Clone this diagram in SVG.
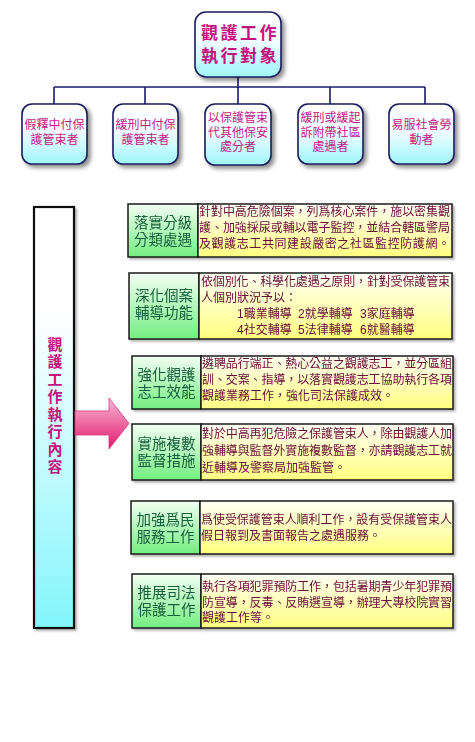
<svg xmlns="http://www.w3.org/2000/svg" width="475" height="742" viewBox="0 0 475 742">
<defs>
  <linearGradient id="gCyan" x1="0" y1="0" x2="0" y2="1">
    <stop offset="0" stop-color="#ffffff"/>
    <stop offset="0.45" stop-color="#f2fdff"/>
    <stop offset="1" stop-color="#9ef6fc"/>
  </linearGradient>
  <linearGradient id="gLeft" x1="0" y1="0" x2="0" y2="1">
    <stop offset="0" stop-color="#ffffff"/>
    <stop offset="0.25" stop-color="#ffffff"/>
    <stop offset="1" stop-color="#82f6fc"/>
  </linearGradient>
  <linearGradient id="gGreen" x1="0" y1="0" x2="0" y2="1">
    <stop offset="0" stop-color="#f4fff4"/>
    <stop offset="1" stop-color="#72ee80"/>
  </linearGradient>
  <linearGradient id="gYellow" x1="0" y1="0" x2="0" y2="1">
    <stop offset="0" stop-color="#fffff6"/>
    <stop offset="1" stop-color="#ffff80"/>
  </linearGradient>
  <linearGradient id="gPink" x1="0" y1="0" x2="0" y2="1">
    <stop offset="0" stop-color="#fbb8d8"/>
    <stop offset="1" stop-color="#e0186c"/>
  </linearGradient>
  <filter id="sh" x="-20%" y="-20%" width="150%" height="150%">
    <feGaussianBlur in="SourceAlpha" stdDeviation="2"/>
    <feOffset dx="3" dy="3" result="b"/>
    <feComponentTransfer><feFuncA type="linear" slope="0.45"/></feComponentTransfer>
    <feMerge><feMergeNode/><feMergeNode in="SourceGraphic"/></feMerge>
  </filter>
  <filter id="sh2" x="-10%" y="-10%" width="130%" height="130%">
    <feGaussianBlur in="SourceAlpha" stdDeviation="1"/>
    <feOffset dx="1.5" dy="1.5" result="b"/>
    <feComponentTransfer><feFuncA type="linear" slope="0.3"/></feComponentTransfer>
    <feMerge><feMergeNode/><feMergeNode in="SourceGraphic"/></feMerge>
  </filter>
</defs>
<style>
  text { font-family: "Liberation Sans", "Noto Sans CJK TC", "Noto Sans CJK SC", sans-serif; dominant-baseline: central; }
  .rbox { fill: url(#gCyan); stroke: #1c1c5c; stroke-width: 1.6; filter: url(#sh); }
  .title { fill: #c4147e; font-size: 17px; font-weight: bold; letter-spacing: 2.5px; text-anchor: middle; }
  .child { fill: #c41c86; font-size: 12px; text-anchor: middle; }
  .conn { stroke: #1c1c6a; stroke-width: 1.6; fill: none; }
  .lbl { fill: url(#gGreen); stroke: #1a1a1a; stroke-width: 1.5; }
  .txt { fill: url(#gYellow); stroke: #1a1a1a; stroke-width: 1.5; }
  .ltxt { fill: #17603c; font-size: 14.5px; text-anchor: middle; }
  .body { fill: #6a0a36; font-size: 12px; }
  .vt { fill: #c4147e; font-size: 15px; font-weight: bold; text-anchor: middle; }
</style>
<rect width="475" height="742" fill="#ffffff"/>

<g id="connectors">
  <path class="conn" d="M238,77 V87 M54,87 H425 M54,87 V104 M145,87 V104 M238,87 V104 M330,87 V104 M425,87 V104"/>
</g>

<g id="root">
  <rect class="rbox" x="195" y="12" width="86" height="65" rx="11"/>
  <text class="title" x="240" y="33">觀護工作</text>
  <text class="title" x="240" y="56">執行對象</text>
</g>

<g id="c1">
  <rect class="rbox" x="22" y="104" width="65" height="60" rx="10"/>
  <text class="child" x="54.5" y="125">假釋中付保</text>
  <text class="child" x="54.5" y="140">護管束者</text>
</g>
<g id="c2">
  <rect class="rbox" x="113" y="104" width="65" height="60" rx="10"/>
  <text class="child" x="145.5" y="125">緩刑中付保</text>
  <text class="child" x="145.5" y="140">護管束者</text>
</g>
<g id="c3">
  <rect class="rbox" x="205" y="104" width="66" height="61" rx="10"/>
  <text class="child" x="238" y="118">以保護管束</text>
  <text class="child" x="238" y="132.5">代其他保安</text>
  <text class="child" x="238" y="147">處分者</text>
</g>
<g id="c4">
  <rect class="rbox" x="298" y="104" width="65" height="60" rx="10"/>
  <text class="child" x="330.5" y="118">緩刑或緩起</text>
  <text class="child" x="330.5" y="132.5">訴附帶社區</text>
  <text class="child" x="330.5" y="147">處遇者</text>
</g>
<g id="c5">
  <rect class="rbox" x="389" y="104" width="65" height="60" rx="10"/>
  <text class="child" x="421.5" y="125">易服社會勞</text>
  <text class="child" x="421.5" y="140">動者</text>
</g>

<g id="content-bar">
  <rect x="34" y="207" width="40" height="421" fill="url(#gLeft)" stroke="#111111" stroke-width="2.2" filter="url(#sh2)"/>
  <text class="vt" x="55" y="344">觀</text>
  <text class="vt" x="55" y="361.5">護</text>
  <text class="vt" x="55" y="379">工</text>
  <text class="vt" x="55" y="396.5">作</text>
  <text class="vt" x="55" y="414">執</text>
  <text class="vt" x="55" y="431.5">行</text>
  <text class="vt" x="55" y="449">內</text>
  <text class="vt" x="55" y="466.5">容</text>
</g>

<g id="arrow">
  <path d="M75,411 H109 V398 L129,423.5 L109,449 V435 H75 Z" fill="url(#gPink)" stroke="#d83880" stroke-width="0.8"/>
</g>

<g id="row1" filter="url(#sh2)">
  <rect class="lbl" x="128" y="204" width="70" height="53"/>
  <rect class="txt" x="198" y="204" width="254" height="53"/>
  <text class="ltxt" x="163" y="223">落實分級</text>
  <text class="ltxt" x="163" y="240">分類處遇</text>
  <text class="body" x="199" y="212" textLength="251">針對中高危險個案，列爲核心案件，施以密集觀</text>
  <text class="body" x="199" y="228" textLength="251">護、加強採尿或輔以電子監控，並結合轄區警局</text>
  <text class="body" x="199" y="244" textLength="251">及觀護志工共同建設嚴密之社區監控防護網。</text>
</g>

<g id="row2" filter="url(#sh2)">
  <rect class="lbl" x="129" y="273" width="70" height="66"/>
  <rect class="txt" x="199" y="273" width="253" height="66"/>
  <text class="ltxt" x="164" y="296">深化個案</text>
  <text class="ltxt" x="164" y="313">輔導功能</text>
  <text class="body" x="201" y="282" textLength="249">依個別化、科學化處遇之原則，針對受保護管束</text>
  <text class="body" x="201" y="298">人個別狀況予以：</text>
  <text class="body" x="237" y="314">1職業輔導</text>
  <text class="body" x="298" y="314">2就學輔導</text>
  <text class="body" x="360" y="314">3家庭輔導</text>
  <text class="body" x="237" y="329.5">4社交輔導</text>
  <text class="body" x="298" y="329.5">5法律輔導</text>
  <text class="body" x="360" y="329.5">6就醫輔導</text>
</g>

<g id="row3" filter="url(#sh2)">
  <rect class="lbl" x="132" y="356" width="69" height="53"/>
  <rect class="txt" x="201" y="356" width="252" height="53"/>
  <text class="ltxt" x="166.5" y="375">強化觀護</text>
  <text class="ltxt" x="166.5" y="392">志工效能</text>
  <text class="body" x="202" y="364" textLength="250">遴聘品行端正、熱心公益之觀護志工，並分區組</text>
  <text class="body" x="202" y="380" textLength="250">訓、交案、指導，以落實觀護志工協助執行各項</text>
  <text class="body" x="202" y="396">觀護業務工作，強化司法保護成效。</text>
</g>

<g id="row4" filter="url(#sh2)">
  <rect class="lbl" x="132" y="424" width="69" height="56"/>
  <rect class="txt" x="201" y="424" width="252" height="56"/>
  <text class="ltxt" x="166.5" y="443.5">實施複數</text>
  <text class="ltxt" x="166.5" y="460.5">監督措施</text>
  <text class="body" x="202" y="434" textLength="250">對於中高再犯危險之保護管束人，除由觀護人加</text>
  <text class="body" x="202" y="451" textLength="250">強輔導與監督外實施複數監督，亦請觀護志工就</text>
  <text class="body" x="202" y="468">近輔導及警察局加強監管。</text>
</g>

<g id="row5" filter="url(#sh2)">
  <rect class="lbl" x="131" y="501" width="69" height="53"/>
  <rect class="txt" x="200" y="501" width="253" height="53"/>
  <text class="ltxt" x="165.5" y="520">加強爲民</text>
  <text class="ltxt" x="165.5" y="537">服務工作</text>
  <text class="body" x="201" y="520" textLength="251">爲使受保護管束人順利工作，設有受保護管束人</text>
  <text class="body" x="201" y="535.5">假日報到及書面報告之處遇服務。</text>
</g>

<g id="row6" filter="url(#sh2)">
  <rect class="lbl" x="132" y="574" width="69" height="54"/>
  <rect class="txt" x="201" y="574" width="252" height="54"/>
  <text class="ltxt" x="166.5" y="593">推展司法</text>
  <text class="ltxt" x="166.5" y="610">保護工作</text>
  <text class="body" x="202" y="587" textLength="250">執行各項犯罪預防工作，包括暑期青少年犯罪預</text>
  <text class="body" x="202" y="602.5" textLength="250">防宣導，反毒、反賄選宣導，辦理大專校院實習</text>
  <text class="body" x="202" y="618">觀護工作等。</text>
</g>
</svg>
